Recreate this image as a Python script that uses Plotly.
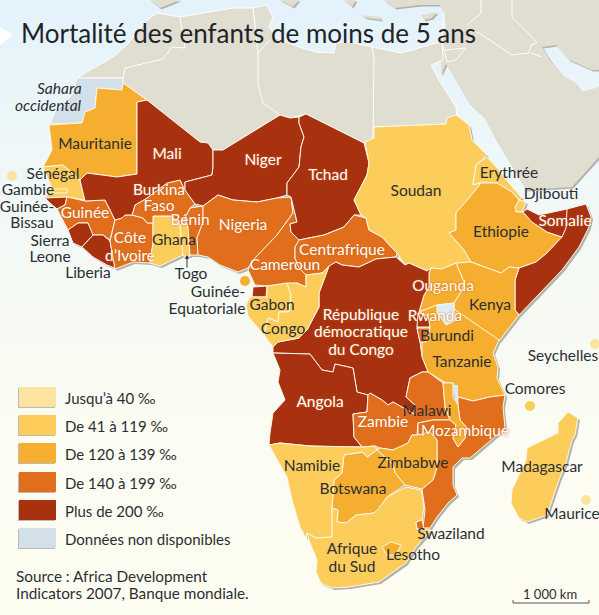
import plotly.graph_objects as go

# outlines are x / y, in picture units
COL_40 = "#fde3a0"
COL_119 = "#fdcd5c"
COL_139 = "#f5ae2f"
COL_199 = "#e16e1c"
COL_200 = "#a83210"
COL_NA = "#d3e0ea"
COL_LAND = "#e0ddd1"
COL_SHADOW = "#b4b3aa"
COL_DARK = "#2b2f33"

legend_labels = ["Jusqu’à 40 ‰", "De 41 à 119 ‰", "De 120 à 139 ‰", "De 140 à 199 ‰", "Plus de 200 ‰", "Données non disponibles"]
legend_colors = [COL_40, COL_119, COL_139, COL_199, COL_200, COL_NA]
legend_top = [387, 415, 443, 472, 500, 528]

bg_y = [0, 150, 300, 450, 615]
bg_level = [0, 0.33, 0.6, 0.85, 1]

north_africa = [(77,78),(90,70),(113,57),(127,45),(147,20),(157,13),(180,17),(233,8),(253,8),(267,5),(273,17),(269,27),(277,38),(299,47),(316,52),(334,53),(336,43),(349,42),(372,47),(402,53),(436,43),(442,43),(443,60),(431,65),(439,80),(456,107),(457,118),(446,124),(374,127),(374,138),(364,143),(306,114),(290,118),(280,115),(223,150),(213,150),(208,143),(200,142),(147,100),(123,83),(123,78)]
asia = [(384,0),(395,8),(420,5),(440,5),(444,13),(446,27),(439,43),(441,65),(441,75),(446,64),(469,103),(484,117),(496,140),(512,167),(526,190),(572,187),(599,157),(599,87),(582,92),(574,82),(562,75),(552,63),(542,47),(556,45),(569,60),(592,70),(599,70),(599,0)]
spain = [(150,0),(160,8),(180,0)]
sicily = [(280,0),(293,7),(299,0)]
greece = [(344,0),(352,7),(356,0)]
crete = [(361,15),(380,17),(381,20),(366,18)]
cyprus = [(421,15),(437,12),(432,18),(424,20)]

sahara = [(77,78),(123,78),(122,90),(97,88),(95,108),(85,112),(82,123),(50,124),(55,112),(72,95)]
mauritanie = [(123,83),(147,100),(137,102),(137,174),(117,177),(87,173),(80,180),(63,165),(43,167),(52,150),(49,125),(82,123),(85,112),(95,108),(97,88),(122,90)]
senegal = [(43,167),(63,165),(80,180),(85,200),(67,197),(45,198),(52,188)]
gambie = [(48,189),(67,189),(67,193),(48,193)]
bissau = [(45,198),(67,197),(65,205),(57,209),(50,203)]
guinee = [(67,197),(85,201),(105,200),(115,220),(110,240),(103,235),(92,235),(88,223),(78,223),(68,230),(57,209),(65,205)]
sierra = [(68,230),(78,223),(88,223),(93,235),(82,247),(73,243)]
liberia = [(82,247),(93,235),(103,235),(110,241),(115,268),(107,265),(93,257)]
ivoire = [(115,220),(122,218),(125,215),(132,215),(143,218),(147,223),(153,223),(153,243),(150,263),(133,262),(115,269),(110,241)]
ghana = [(153,216),(172,216),(180,226),(183,255),(160,266),(150,263),(153,243)]
togo = [(180,224),(188,224),(190,256),(183,256)]
benin = [(190,208),(203,206),(203,222),(197,238),(198,255),(190,255),(188,227),(185,218)]
burkina = [(132,215),(135,205),(147,198),(167,183),(180,180),(185,190),(195,204),(190,208),(185,218),(180,225),(172,216),(153,216),(153,223),(147,223),(143,218)]
mali = [(137,102),(147,100),(200,142),(208,143),(213,150),(213,167),(212,175),(185,182),(185,190),(180,180),(167,183),(147,198),(135,205),(132,215),(125,215),(122,218),(115,220),(105,200),(85,201),(80,180),(87,173),(117,177),(137,174)]
niger = [(213,150),(223,150),(280,115),(290,118),(299,117),(299,123),(304,137),(301,147),(299,167),(287,183),(287,195),(277,198),(257,202),(233,200),(218,195),(203,206),(195,204),(185,190),(185,182),(212,175),(213,167)]
nigeria = [(203,206),(218,195),(233,200),(257,202),(277,198),(291,197),(293,213),(277,235),(263,250),(253,260),(248,268),(238,272),(220,265),(208,257),(198,255),(197,238),(203,222)]
cameroun = [(291,197),(293,213),(277,235),(263,250),(253,260),(248,270),(255,285),(267,286),(297,283),(306,287),(306,275),(299,268),(295,258),(295,247),(300,240),(291,232),(290,224),(297,222)]
centrafrique = [(299,240),(324,235),(344,227),(354,215),(366,218),(369,230),(382,237),(397,253),(396,257),(376,259),(359,267),(342,265),(336,262),(322,273),(306,275),(299,268),(295,258),(295,247)]
tchad = [(299,117),(306,114),(364,143),(369,163),(367,175),(354,200),(361,215),(354,215),(344,227),(324,235),(299,240),(291,232),(290,224),(297,222),(291,197),(287,195),(287,183),(299,167),(301,147),(304,137),(299,123)]
soudan = [(374,127),(446,124),(447,118),(456,115),(469,125),(472,140),(487,155),(476,165),(473,185),(481,183),(469,198),(456,213),(456,230),(449,233),(464,250),(471,262),(456,263),(442,269),(431,268),(427,271),(409,263),(405,265),(397,253),(382,237),(369,230),(366,218),(361,215),(354,200),(367,175),(369,163),(365,142),(374,138)]
erythree = [(487,157),(476,165),(473,185),(481,182),(497,183),(512,192),(519,200),(522,198),(512,187),(496,167)]
djibouti = [(519,200),(526,202),(522,212),(516,212),(515,207)]
ethiopie = [(481,183),(497,183),(512,192),(519,200),(515,207),(516,212),(523,212),(532,222),(547,232),(562,237),(547,253),(536,262),(519,268),(509,267),(501,273),(479,265),(471,262),(464,250),(449,233),(456,230),(456,213),(469,198)]
somalie = [(523,212),(527,209),(539,215),(567,209),(586,204),(591,217),(589,227),(579,247),(562,270),(536,297),(519,315),(515,310),(515,280),(519,268),(536,262),(547,253),(562,237),(547,232),(532,222)]
kenya = [(456,263),(471,262),(479,265),(501,273),(509,267),(519,268),(515,280),(515,310),(519,315),(509,328),(499,341),(454,309),(454,303),(462,290),(464,282)]
ouganda = [(431,268),(442,269),(456,263),(464,282),(462,290),(454,303),(437,305),(419,312),(424,295),(429,287),(429,273)]
tanzanie = [(419,312),(437,305),(454,309),(499,340),(493,353),(498,367),(497,378),(505,395),(490,397),(473,401),(458,397),(453,383),(446,383),(428,372),(422,357),(422,340),(426,342),(430,327),(428,316)]
victoria = [(437,305),(454,303),(454,309),(456,320),(446,325),(437,313)]
rwanda = [(418,313),(428,316),(430,327),(417,327)]
burundi = [(417,328),(430,328),(426,342),(420,342)]
rdc = [(329,266),(336,262),(342,265),(359,267),(376,259),(396,257),(405,265),(409,263),(427,271),(431,268),(429,273),(429,287),(424,295),(419,312),(417,328),(420,342),(422,357),(428,372),(422,372),(410,378),(406,397),(415,405),(414,414),(393,402),(388,405),(382,400),(370,393),(368,395),(357,392),(353,368),(335,364),(333,372),(322,370),(310,354),(273,353),(273,347),(278,342),(299,338),(307,330),(319,307),(319,293)]
guinee_eq = [(253,287),(267,286),(266,297),(252,297)]
gabon = [(250,297),(267,297),(267,286),(287,283),(291,295),(289,312),(279,312),(278,322),(268,318),(264,335),(248,316),(246,305)]
congo = [(287,283),(297,283),(306,287),(306,275),(322,273),(329,266),(319,293),(319,307),(307,330),(299,338),(278,342),(273,347),(264,335),(268,318),(278,322),(279,312),(289,312),(291,295)]
angola = [(273,353),(310,354),(322,370),(333,372),(335,364),(353,368),(357,392),(368,395),(367,412),(353,414),(354,437),(362,447),(347,447),(310,446),(280,443),(269,445),(270,433),(273,413),(285,400),(278,382),(280,370)]
zambie = [(368,395),(370,393),(382,400),(388,405),(393,402),(414,414),(415,405),(406,397),(410,378),(422,372),(428,372),(443,383),(445,407),(450,420),(433,420),(418,423),(417,435),(412,435),(408,443),(393,450),(380,448),(375,446),(362,447),(354,437),(353,414),(367,412)]
malawi = [(443,383),(453,383),(453,397),(458,405),(460,420),(467,428),(465,438),(458,447),(453,438),(456,425),(450,420),(445,407)]
lac_malawi = [(453,385),(458,385),(458,403),(455,400)]
mozambique = [(458,397),(473,401),(490,397),(505,395),(503,407),(505,428),(483,447),(470,458),(462,458),(453,467),(453,485),(457,495),(448,503),(437,517),(430,528),(423,528),(425,510),(422,489),(433,480),(437,467),(437,440),(430,432),(418,435),(418,423),(433,420),(450,420),(456,425),(453,438),(458,447),(465,438),(467,428),(460,420),(458,405)]
zimbabwe = [(393,450),(408,443),(412,435),(417,435),(430,432),(437,440),(437,467),(433,480),(422,489),(405,485),(395,473),(393,465),(377,450),(380,448)]
botswana = [(344,455),(363,452),(367,457),(377,450),(393,465),(395,473),(405,485),(387,497),(379,508),(374,513),(356,515),(346,523),(337,522),(338,510),(332,508),(334,480),(342,473)]
namibie = [(269,445),(280,443),(310,446),(347,447),(362,447),(375,446),(377,450),(367,457),(363,452),(344,455),(342,473),(334,480),(332,508),(332,537),(316,538),(307,533),(306,538),(300,527),(292,500),(287,477)]
afrique_sud = [(307,533),(316,538),(332,537),(332,508),(338,510),(337,522),(346,523),(356,515),(374,513),(379,508),(387,497),(406,487),(421,490),(424,507),(422,520),(416,522),(417,529),(431,530),(416,547),(406,563),(379,582),(349,587),(332,588),(321,583),(316,572),(317,560),(309,540)]
swaziland = [(416,522),(422,520),(424,529),(417,529)]
lesotho = [(382,547),(391,542),(401,545),(396,555),(387,555)]
madagascar = [(568,412),(578,418),(575,435),(572,440),(566,463),(559,480),(547,515),(527,522),(519,518),(511,503),(512,490),(526,460),(527,448),(558,433),(558,423)]

africa = [(sahara, COL_NA), (mauritanie, COL_139), (senegal, COL_119), (gambie, COL_119), (bissau, COL_200),
          (guinee, COL_199), (sierra, COL_200), (liberia, COL_200), (ivoire, COL_199), (ghana, COL_119),
          (togo, COL_119), (benin, COL_199), (burkina, COL_199), (mali, COL_200), (niger, COL_200),
          (nigeria, COL_199), (cameroun, COL_199), (tchad, COL_200), (centrafrique, COL_199), (soudan, COL_119),
          (erythree, COL_119), (djibouti, COL_119), (ethiopie, COL_139), (somalie, COL_200), (kenya, COL_139),
          (ouganda, COL_139), (tanzanie, COL_139), (rdc, COL_200), (rwanda, COL_200), (burundi, COL_199),
          (guinee_eq, COL_200), (gabon, COL_119), (congo, COL_119), (angola, COL_200), (zambie, COL_199),
          (mozambique, COL_199), (malawi, COL_139), (zimbabwe, COL_139), (botswana, COL_139), (namibie, COL_119),
          (afrique_sud, COL_119), (swaziland, COL_199), (lesotho, COL_139), (madagascar, COL_119)]

border_lines = [
    [(123,78),(125,68),(163,59),(172,47),(185,48),(180,17)],
    [(253,7),(258,53),(258,85),(263,103),(280,115)],
    [(258,53),(270,40)],
    [(372,47),(374,58),(373,138)],
    [(442,43),(447,62),(456,60),(466,48),(445,50)],
    [(467,25),(481,13),(481,0)],
    [(467,28),(479,33),(512,55),(529,53),(531,45),(537,43)],
    [(512,0),(512,17),(532,37),(537,43)],
    [(531,53),(542,57)],
    [(442,43),(444,13)],
    [(567,209),(566,228),(562,237)],
]

dot_x = [12, 245, 595, 530, 586]
dot_y = [176, 281, 344, 406, 500]
dot_colors = [COL_40, COL_139, COL_40, COL_119, COL_40]

dark_labels = [("Mauritanie",95,145),("Soudan",416,192),("Sénégal",53,175),("Gambie",28,191),("Guinée-",27,208),("Bissau",32,224),
               ("Sierra",50,242),("Leone",50,258),("Liberia",88,274),("Ghana",174,241),("Togo",191,275),("Guinée-",218,293),
               ("Equatoriale",207,310),("Gabon",272,306),("Congo",283,330),("Burundi",447,337),("Kenya",490,306),("Tanzanie",462,363),
               ("Ethiopie",501,233),("Erythrée",509,174),("Djibouti",551,195),("Seychelles",563,357),("Comores",535,390),
               ("Madagascar",542,468),("Maurice",572,515),("Malawi",427,412),("Zimbabwe",413,464),("Namibie",312,467),
               ("Botswana",353,490),("Swaziland",451,535),("Lesotho",413,556),("Afrique",352,550),("du Sud",352,568)]
white_labels = [("Mali",167,155),("Niger",263,161),("Tchad",328,176),("Guinée",85,214),("Burkina",159,191),("Faso",159,207),
                ("Bénin",190,221),("Côte",130,239),("d’Ivoire",130,257),("Nigeria",243,226),("Cameroun",285,266),("Centrafrique",342,251),
                ("République",361,316),("démocratique",361,333),("du Congo",361,351),("Ouganda",443,287),("Rwanda",435,317),
                ("Somalie",565,222),("Mozambique",465,432),("Angola",320,403),("Zambie",383,423)]

FONT = "Lato"


def xy(points, dx=0, dy=0):
    # close the ring and optionally shift it (used for the drop shadow)
    ring = list(points) + [points[0]]
    return [p[0] + dx for p in ring], [p[1] + dy for p in ring]


def add_poly(fig, points, fill, line="rgba(0,0,0,0)", width=0, dx=0, dy=0):
    x, y = xy(points, dx, dy)
    fig.add_trace(go.Scatter(x=x, y=y, mode="lines", fill="toself", fillcolor=fill,
                             line=dict(color=line, width=width), hoverinfo="skip", showlegend=False))


def add_labels(fig, labels, color, halo=None):
    font = dict(family=FONT, size=15.5, color=color)
    if halo:
        font["shadow"] = halo
    fig.add_trace(go.Scatter(x=[l[1] for l in labels], y=[l[2] for l in labels], text=[l[0] for l in labels],
                             mode="text", textposition="middle center", textfont=font,
                             hoverinfo="skip", showlegend=False))


fig = go.Figure()

# background: pale blue at the top fading to cream
fig.add_trace(go.Heatmap(x=[0, 599], y=bg_y, z=[[v, v] for v in bg_level], zsmooth="best", showscale=False,
                         colorscale=[[0, "#e3f2fb"], [0.33, "#eef7f9"], [0.6, "#f6faf3"], [0.85, "#fcfcf2"], [1, "#fefdf1"]],
                         hoverinfo="skip"))

for land in [spain, sicily, greece, crete, cyprus, asia]:
    add_poly(fig, land, COL_SHADOW, dx=1.5, dy=1.5)
    add_poly(fig, land, COL_LAND)
for land, _ in africa:
    add_poly(fig, land, COL_SHADOW, dx=2, dy=2)
add_poly(fig, north_africa, COL_LAND, "white", 1)
for land, color in africa:
    add_poly(fig, land, color, "#fdf8e8", 1)
add_poly(fig, victoria, "#dcecf5", "#fdf8e8", 1)
add_poly(fig, lac_malawi, "#dcecf5")

for line in border_lines:
    fig.add_trace(go.Scatter(x=[p[0] for p in line], y=[p[1] for p in line], mode="lines",
                             line=dict(color="white", width=1), hoverinfo="skip", showlegend=False))

fig.add_trace(go.Scatter(x=dot_x, y=dot_y, mode="markers", marker=dict(size=10, color=dot_colors),
                         hoverinfo="skip", showlegend=False))

add_labels(fig, dark_labels, COL_DARK)
add_labels(fig, white_labels, "white", "0 0 2px #c9601a")

shapes = []
for col, top in zip(legend_colors, legend_top):
    shapes.append(dict(type="rect", x0=18, x1=55, y0=top + 1, y1=top + 21, fillcolor="#bdbcb4", line_width=0, layer="above"))
    shapes.append(dict(type="rect", x0=19, x1=56, y0=top, y1=top + 20, fillcolor=col, line_width=0, layer="above"))
# title triangle and scale bar
shapes.append(dict(type="path", path="M 0 27 L 13 35 L 0 45 Z", fillcolor="white", line_width=0))
shapes.append(dict(type="path", path="M 513 600 L 513 603 L 589 603 L 589 600", line=dict(color="#555", width=1)))

ann = [dict(x=19, y=33, text="Mortalité des enfants de moins de 5 ans", xanchor="left", font=dict(size=26, color="#1f2428"))]
for lab, col, top in zip(legend_labels, legend_colors, legend_top):
    ann.append(dict(x=63, y=top + 11, text=lab, xanchor="left", font=dict(size=15, color=COL_DARK)))
ann.append(dict(x=14, y=576, text="Source : Africa Development", xanchor="left", font=dict(size=15.3, color=COL_DARK)))
ann.append(dict(x=14, y=593, text="Indicators 2007, Banque mondiale.", xanchor="left", font=dict(size=15.3, color=COL_DARK)))
ann.append(dict(x=550, y=594, text="1 000 km", font=dict(size=13, color=COL_DARK)))
ann.append(dict(x=84, y=88, text="<i>Sahara</i>", xanchor="right", font=dict(size=15.5, color=COL_DARK)))
ann.append(dict(x=84, y=105, text="<i>occidental</i>", xanchor="right", font=dict(size=15.5, color=COL_DARK)))
# arrow from the Togo label up to the coast
ann.append(dict(x=187, y=255, ax=187, ay=269, axref="x", ayref="y", text="", showarrow=True, arrowhead=2, arrowsize=0.8,
                arrowwidth=1, arrowcolor="#333"))
for a in ann:
    a.setdefault("showarrow", False)
    a.setdefault("xref", "x")
    a.setdefault("yref", "y")

fig.update_layout(width=599, height=615, margin=dict(l=0, r=0, t=0, b=0), plot_bgcolor="#fefdf1", paper_bgcolor="#fefdf1",
                  font=dict(family=FONT), shapes=shapes, annotations=ann, showlegend=False)
fig.update_xaxes(range=[0, 599], visible=False, fixedrange=True)
fig.update_yaxes(range=[615, 0], visible=False, fixedrange=True)

fig.write_html("out.html", config=dict(displayModeBar=False), post_script="document.body.style.margin='0';")
